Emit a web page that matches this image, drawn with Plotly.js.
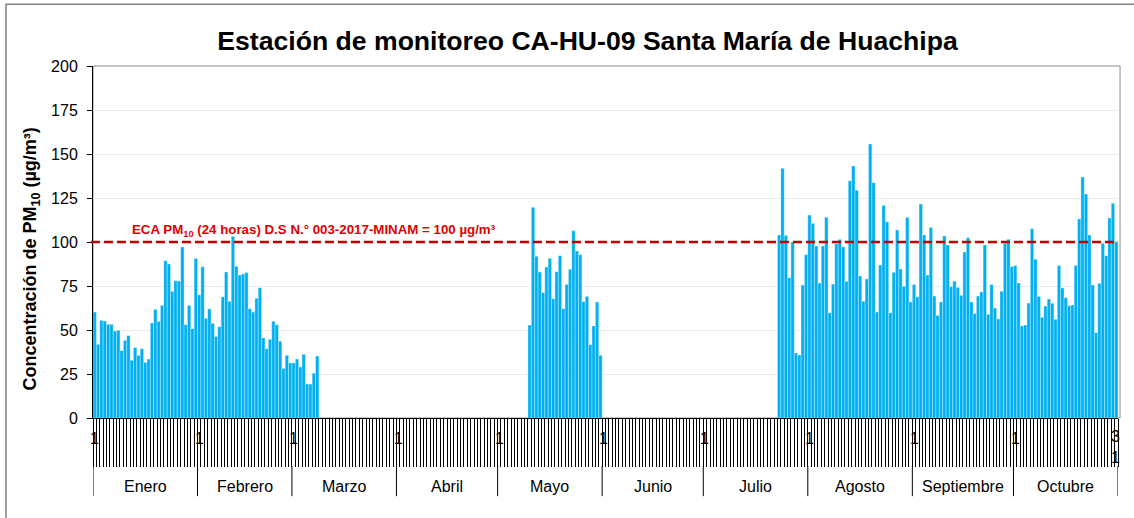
<!DOCTYPE html>
<html><head><meta charset="utf-8">
<script src="https://cdn.plot.ly/plotly-3.0.1.min.js"></script>
<style>body{margin:0;background:#fff}</style>
</head><body><div id="chart" style="width:1134px;height:518px"></div>
<script>
const months = ['Enero','Febrero','Marzo','Abril','Mayo','Junio','Julio','Agosto','Septiembre','Octubre'];
const monthDays = [31,28,31,30,31,30,31,31,30,31];

// Daily PM10 (µg/m³); each array starts at the given day of its month
const janValues = [60.2,41.9,55.5,55.1,53.2,53.2,49.4,49.8,38.3,44.1,46.8,32.8,40,35.6,39.4,31.6,33.5,54,61.7,54.9,64,89.4,87.5,72,78,77.8,97.2,53,64,50.8,90.7];
const febValues = [70,86,56.6,62,53.8,46.4,51.9,68.8,83,66.3,103.2,86.2,81.3,81.8,82.6,62.1,60.2,68,74,45.5,39.4,44.7,55,53,43.6,28.2,35.6,31.3];
const marValues = [31.3,33.5,29,36.2,19.3,19.3,25.4,35.2];            // from 1 Mar
const mayValues = [52.8,119.7,91.9,83,71.2,85.8,90.7,67.8,83.1,92.2,62.1,75.9,84.5,106.4,94.9,92.8,66.1,69.1,41.7,52.3,65.9,35.6]; // from 10 May
const julValues = [104,141.9,103.8,79.7,100,36.9,35.8,75.6,92.8];     // from 23 Jul
const augValues = [115.3,110.6,97.7,76.7,97.7,114,59.8,76.1,99,101.5,97.3,77.7,134.8,143.2,129.4,80.7,66.3,79,155.7,133.7,60.2,86.9,120.8,111.4,59.8,82.8,106.8,84.7,74.8,114,65.9];
const sepValues = [75.8,68.9,121.6,104,81.3,108.3,69.3,58.3,65.9,103.4,98.3,74.6,77.7,74.2,69.7,94.3,102.5,65.9,59.3,69.3,71.6,98.3,58.9,75.8,62.5,56.3,72,99.2,101.5,86];
const octValues = [86.6,76.7,52.3,52.8,65.3,107.6,90.2,69.1,57.2,63.6,67.6,65.2,56.1,86.6,73.9,68.4,63.8,64.2,86.7,113.1,136.9,127.3,104,75.6,48.5,76.5,99.2,92.2,113.6,122,100.2];

const segments = [
  {month: 0, startDay: 1, values: janValues},
  {month: 1, startDay: 1, values: febValues},
  {month: 2, startDay: 1, values: marValues},
  {month: 4, startDay: 10, values: mayValues},
  {month: 6, startDay: 23, values: julValues},
  {month: 7, startDay: 1, values: augValues},
  {month: 8, startDay: 1, values: sepValues},
  {month: 9, startDay: 1, values: octValues}
];
const ecaLimit = 100;
const ecaLabel = 'ECA PM<sub>10</sub> (24 horas) D.S N.° 003-2017-MINAM = 100 µg/m³';
const yTicks = [0,25,50,75,100,125,150,175,200];

// build per-day series
const monthStart = [];
let acc = 0;
monthDays.forEach(d => { monthStart.push(acc); acc += d; });
const totalDays = acc;
const xs = [], ys = [];
for (let i = 0; i < totalDays; i++) { xs.push(i + 0.5); ys.push(null); }
segments.forEach(s => {
  s.values.forEach((v, k) => { ys[monthStart[s.month] + s.startDay - 1 + k] = v; });
});

const FONT = 'Arial, "Liberation Sans", sans-serif';
const dayTicks = [];
for (let i = 0; i <= totalDays; i++) dayTicks.push(i);

const shapes = [];
const annotations = [];
// plot area border (gray)
shapes.push({type:'rect', xref:'paper', yref:'paper', x0:0, x1:1.002, y0:0, y1:1, line:{color:'#8c8c8c', width:1}, layer:'below'});
// outer chart border
shapes.push({type:'rect', xref:'paper', yref:'paper', x0:-0.0849, x1:1.02, y0:-0.4, y1:1.1755, line:{color:'#808080', width:1.5}, layer:'below'});
// ECA line
shapes.push({type:'line', xref:'paper', yref:'y', x0:-0.002, x1:1, y0:ecaLimit, y1:ecaLimit, line:{color:'#c00000', width:2.5, dash:'9px,4px'}});
// month separators
for (let m = 0; m <= months.length; m++) {
  const xb = m < months.length ? monthStart[m] : totalDays;
  shapes.push({type:'line', xref:'x', yref:'paper', x0:xb, x1:xb, y0:-0.136, y1:-0.222, line:{color:'#000', width:1}});
}
months.forEach((name, m) => {
  annotations.push({xref:'x', yref:'paper', x: monthStart[m] + monthDays[m]/2, y:0, yshift:-68, text:name, showarrow:false, font:{family:FONT, size:16, color:'#000'}, yanchor:'middle'});
  annotations.push({xref:'x', yref:'paper', x: monthStart[m] + 0.5, y:0, yshift:-20, text:'1', showarrow:false, font:{family:FONT, size:16, color:'#000'}, yanchor:'middle'});
});
annotations.push({xref:'x', yref:'paper', x: totalDays - 0.7, y:0, yshift:-29, text:'3<br>1', showarrow:false, font:{family:FONT, size:16, color:'#000'}, yanchor:'middle'});
// ECA label
annotations.push({xref:'paper', yref:'y', x:0.036, y:ecaLimit, yshift:1, xanchor:'left', yanchor:'bottom', text:ecaLabel, showarrow:false, font:{family:FONT, size:13.3, color:'#e00000', weight:'bold'}});
// y axis title
annotations.push({xref:'paper', yref:'paper', x:-0.0595, y:0.45, xanchor:'center', yanchor:'middle', textangle:-90, text:'Concentración de PM<sub>10</sub> (µg/m³)', showarrow:false, font:{family:FONT, size:18, color:'#000', weight:'bold'}});

const trace = {
  type:'bar', x: xs, y: ys, width: 1,
  marker:{color:'#00b0f0', line:{color:'rgba(255,255,255,0.55)', width:0.6}},
  hoverinfo:'none'
};

const layout = {
  width:1134, height:518,
  margin:{l:93, r:16, t:66, b:100},
  paper_bgcolor:'#fff', plot_bgcolor:'#fff',
  title:{text:'<b>Estación de monitoreo CA-HU-09 Santa María de Huachipa</b>', x:587.5/1134, xanchor:'center', y:1-41/518, yanchor:'middle', font:{family:FONT, size:26.6, color:'#000'}},
  showlegend:false,
  bargap:0,
  xaxis:{range:[0,totalDays], tickvals:dayTicks, showticklabels:false, ticks:'outside', ticklen:48, tickwidth:1, tickcolor:'#000', showline:true, linecolor:'#000', linewidth:1, showgrid:false, zeroline:false, fixedrange:true},
  yaxis:{range:[0,200], tickvals:yTicks, ticks:'outside', ticklen:5, tickwidth:1, tickcolor:'#000', showline:true, linecolor:'#000', linewidth:1, gridcolor:'#ececec', gridwidth:1, zeroline:false, tickfont:{family:FONT, size:16, color:'#000'}, ticklabelstandoff:6, fixedrange:true},
  shapes: shapes,
  annotations: annotations
};

Plotly.newPlot('chart', [trace], layout, {staticPlot:true, displayModeBar:false});
</script>
</body></html>
